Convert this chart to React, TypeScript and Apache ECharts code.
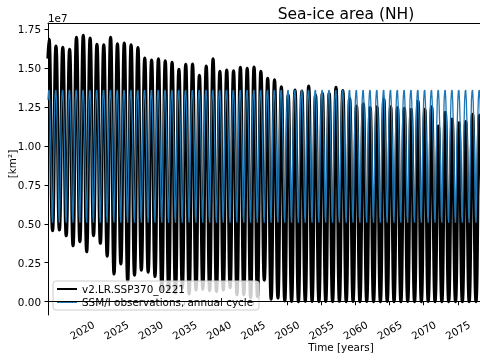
import React, { useEffect, useRef } from "react";
import * as echarts from "echarts";

// ---- data (sea-ice area, units of 1e6 km²) ----
const FIRST_YEAR = 2015;
// Model v2.LR.SSP370_0221: annual maximum (March) per year, 2015..2078
const modelMarchMax = [
  16.84, 16.41, 16.32, 16.19, 16.97, 17.09, 16.92, 16.52, 16.49, 16.97,
  16.54, 16.6, 16.49, 16.3, 15.64, 15.51, 15.59, 15.46, 15.36, 14.91,
  15.23, 15.25, 14.53, 15.12, 15.59, 14.78, 14.87, 14.82, 15.04, 14.98,
  15.06, 14.78, 14.33, 14.24, 13.78, 13.26, 13.58, 13.52, 13.84, 13.26,
  13.37, 13.37, 13.76, 13.54, 13.05, 12.56, 12.69, 12.45, 12.51, 13.0,
  12.51, 12.45, 12.41, 12.34, 12.88, 12.34, 12.51, 11.27, 12.15, 11.72,
  11.48, 11.55, 12.02, 11.98,
];
// Model annual minimum (September) per year, 2015..2078
const modelSeptMin = [
  4.56, 4.6, 4.24, 3.59, 3.85, 3.21, 4.24, 3.75, 2.93, 1.78,
  2.42, 1.33, 1.7, 2.03, 1.9, 1.62, 0.78, 0.75, 0.56, 0.88,
  0.5, 0.75, 0.8, 0.7, 0.65, 0.75, 0.9, 0.43, 0.45, 0.25,
  0.32, 1.39, 0.17, 0.24, 0.05, 0.02, 0.01, 0.03, 0.02, 0.01,
  0.02, 0.01, 0.03, 0.01, 0.02, 0.01, 0.02, 0.01, 0.01, 0.02,
  0.01, 0.01, 0.02, 0.01, 0.01, 0.02, 0.01, 0.01, 0.01, 0.01,
  0.01, 0.01, 0.01, 0.01,
];
const modelJan2015 = 15.6;
// SSM/I observed monthly climatology (Jan..Dec)
const obsMonthlyClim = [12.95, 13.5, 13.58, 12.9, 11.6, 9.9, 7.4, 5.5, 5.07, 6.7, 9.2, 11.4];
const obsYears = modelMarchMax.length + 1;

const xTicks = [2020, 2025, 2030, 2035, 2040, 2045, 2050, 2055, 2060, 2065, 2070, 2075];
const yTicks = [0, 2.5e6, 5e6, 7.5e6, 10e6, 12.5e6, 15e6, 17.5e6];

const FONT = "DejaVu Sans";

export default function App() {
  const ref = useRef<HTMLDivElement>(null);
  useEffect(() => {
    if (!ref.current) return;
    const chart = echarts.init(ref.current, undefined, { renderer: "svg" });

    const modelData: number[][] = [[FIRST_YEAR, modelJan2015 * 1e6]];
    modelMarchMax.forEach((mx, i) => {
      const yr = FIRST_YEAR + i;
      modelData.push([yr + 2 / 12, mx * 1e6]);
      modelData.push([yr + 8 / 12, modelSeptMin[i] * 1e6]);
    });
    const obsData: number[][] = [];
    for (let i = 0; i < obsYears; i++) {
      obsMonthlyClim.forEach((v, m) => obsData.push([FIRST_YEAR + i + m / 12, v * 1e6]));
    }

    const axisFont = { fontSize: 10.4, color: "#000", fontFamily: FONT };

    chart.setOption({
      animation: false,
      textStyle: { fontFamily: FONT },
      title: {
        text: "Sea-ice area (NH)",
        left: 341,
        top: 1,
        textAlign: "center",
        textStyle: { fontSize: 15.5, fontWeight: "normal", color: "#000", fontFamily: FONT },
      },
      grid: { left: 48, right: 0, top: 23, bottom: 45, containLabel: false },
      xAxis: [
        {
          type: "value",
          min: 2015,
          max: 2078.25,
          axisLine: { show: true, lineStyle: { color: "#000", width: 1 } },
          axisTick: { show: true, customValues: xTicks, length: 3.5, lineStyle: { color: "#000" } },
          axisLabel: {
            customValues: xTicks,
            rotate: 30,
            align: "center",
            verticalAlign: "middle",
            margin: 15,
            formatter: (v: number) => String(v),
            ...axisFont,
          },
          splitLine: { show: false },
        },
        {
          type: "value",
          position: "top",
          min: 2015,
          max: 2078.25,
          axisLine: { show: true, lineStyle: { color: "#000", width: 1 } },
          axisTick: { show: false },
          axisLabel: { show: false },
          splitLine: { show: false },
        },
      ],
      yAxis: {
        type: "value",
        min: -853000,
        max: 17885000,
        axisLine: { show: true, lineStyle: { color: "#000", width: 1 } },
        axisTick: { show: true, customValues: yTicks, length: 3.5, lineStyle: { color: "#000" } },
        axisLabel: {
          customValues: yTicks,
          margin: 7,
          formatter: (v: number) => (v / 1e7).toFixed(2),
          ...axisFont,
        },
        splitLine: { show: false },
      },
      legend: {
        orient: "vertical",
        left: 53,
        top: 281,
        padding: [3, 6, 3, 3],
        itemGap: 3,
        itemWidth: 20,
        itemHeight: 10,
        backgroundColor: "rgba(255,255,255,0.8)",
        borderColor: "#cccccc",
        borderWidth: 1,
        borderRadius: 3,
        itemStyle: { opacity: 0 },
        textStyle: { fontSize: 10.4, color: "#000", fontFamily: FONT },
        data: ["v2.LR.SSP370_0221", "SSM/I observations, annual cycle"],
      },
      graphic: [
        {
          type: "text",
          x: 48,
          y: 18,
          style: { text: "1e7", fontSize: 10.4, fill: "#000", fontFamily: FONT, align: "left", verticalAlign: "middle" },
        },
        {
          type: "text",
          x: 12,
          y: 164,
          rotation: Math.PI / 2,
          style: { text: "[km²]", fontSize: 10.4, fill: "#000", fontFamily: FONT, align: "center", verticalAlign: "middle" },
        },
        {
          type: "text",
          x: 341,
          y: 347,
          style: { text: "Time [years]", fontSize: 10.4, fill: "#000", fontFamily: FONT, align: "center", verticalAlign: "middle" },
        },
      ],
      series: [
        {
          name: "v2.LR.SSP370_0221",
          type: "line",
          data: modelData,
          symbol: "none",
          smooth: 0.5,
          smoothMonotone: "x",
          lineStyle: { color: "#000", width: 3.2 },
          itemStyle: { color: "#000" },
          markLine: {
            silent: true,
            symbol: "none",
            label: { show: false },
            lineStyle: { color: "#000", width: 1, type: "solid" },
            data: [{ yAxis: 0 }],
          },
        },
        {
          name: "SSM/I observations, annual cycle",
          type: "line",
          data: obsData,
          symbol: "none",
          lineStyle: { color: "#1f77b4", width: 1.3 },
          itemStyle: { color: "#1f77b4" },
        },
      ],
    });
    return () => chart.dispose();
  }, []);
  return <div ref={ref} style={{ position: "fixed", left: 0, top: 0, width: 480, height: 360 }} />;
}
